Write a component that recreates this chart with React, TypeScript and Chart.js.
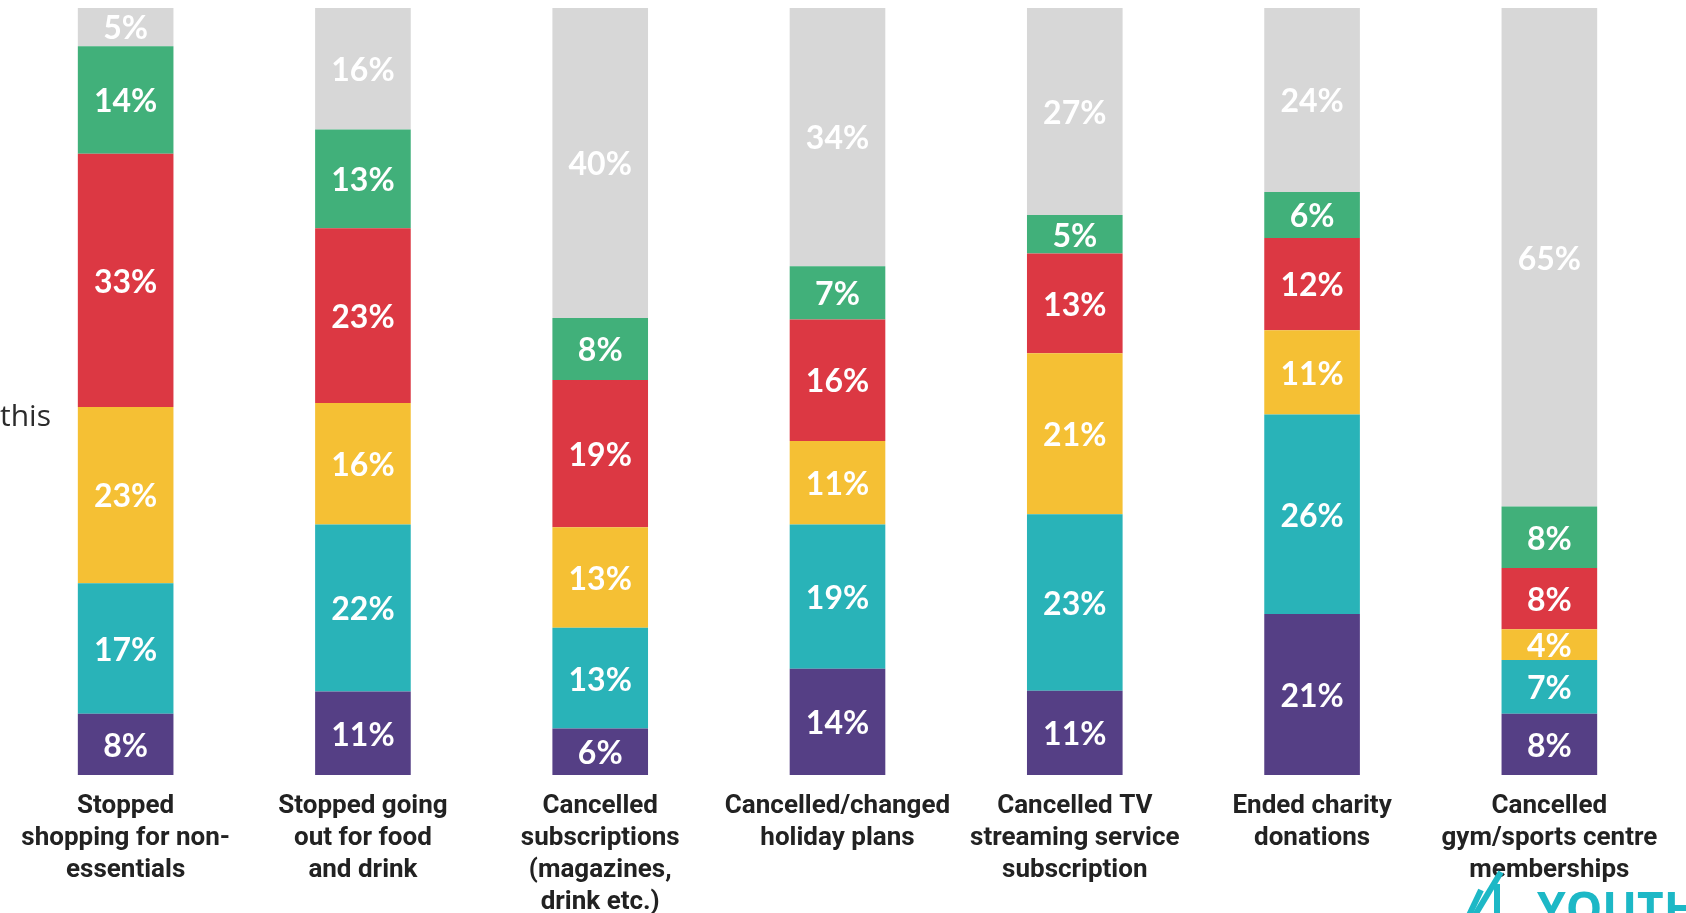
import React, { useEffect, useRef } from "react";
import { Chart, registerables } from "chart.js";

Chart.register(...registerables);

const categories: string[][] = [
  ["Stopped", "shopping for non-", "essentials"],
  ["Stopped going", "out for food", "and drink"],
  ["Cancelled", "subscriptions", "(magazines,", "drink etc.)"],
  ["Cancelled/changed", "holiday plans"],
  ["Cancelled TV", "streaming service", "subscription"],
  ["Ended charity", "donations"],
  ["Cancelled", "gym/sports centre", "memberships"],
];

// stacked bottom → top
const purpleValues = [8, 11, 6, 14, 11, 21, 8];
const tealValues = [17, 22, 13, 19, 23, 26, 7];
const yellowValues = [23, 16, 13, 11, 21, 11, 4];
const redValues = [33, 23, 19, 16, 13, 12, 8];
const greenValues = [14, 13, 8, 7, 5, 6, 8];
const greyValues = [5, 16, 40, 34, 27, 24, 65];

const seriesValues = [purpleValues, tealValues, yellowValues, redValues, greenValues, greyValues];
const seriesColors = ["#553f85", "#29b3b8", "#f5c034", "#dc3843", "#41b07a", "#d7d7d7"];

const sideText = "this";
const logoText = "YOUTH";

const totals = categories.map((_, i) => seriesValues.reduce((s, arr) => s + arr[i], 0));

const labelPlugin = {
  id: "segLabels",
  afterDatasetsDraw(chart: any) {
    const ctx = chart.ctx;
    ctx.save();
    ctx.fillStyle = "#ffffff";
    ctx.font = "bold 32px Lato";
    ctx.textAlign = "center";
    ctx.textBaseline = "middle";
    chart.data.datasets.forEach((ds: any, di: number) => {
      const meta = chart.getDatasetMeta(di);
      meta.data.forEach((el: any, i: number) => {
        const raw = ds.rawValues[i];
        const y = (el.y + el.base) / 2 + 2;
        ctx.fillText(raw + "%", el.x, y);
      });
    });
    ctx.restore();
  },
  afterDraw(chart: any) {
    const ctx = chart.ctx;
    ctx.save();
    ctx.fillStyle = "#2b2b2b";
    ctx.font = "30px 'Open Sans'";
    ctx.textAlign = "left";
    ctx.textBaseline = "middle";
    ctx.fillText(sideText, 0, 417);
    // logo
    ctx.fillStyle = "#1db8c6";
    ctx.strokeStyle = "#1db8c6";
    ctx.lineWidth = 6;
    ctx.beginPath();
    ctx.moveTo(1501, 872);
    ctx.lineTo(1466, 930);
    ctx.stroke();
    ctx.beginPath();
    ctx.moveTo(1497, 884);
    ctx.lineTo(1497, 930);
    ctx.stroke();
    ctx.beginPath();
    ctx.moveTo(1481, 890);
    ctx.lineTo(1462, 930);
    ctx.stroke();
    ctx.font = "bold 46px 'Open Sans'";
    ctx.textBaseline = "alphabetic";
    ctx.fillText(logoText, 1537, 925);
    ctx.restore();
  },
};

export default function App() {
  const ref = useRef<HTMLCanvasElement>(null);
  useEffect(() => {
    if (!ref.current) return;
    const chart = new Chart(ref.current, {
      type: "bar",
      data: {
        labels: categories,
        datasets: seriesValues.map((vals, si) => ({
          label: "s" + si,
          data: vals.map((v, i) => (v / totals[i]) * 100),
          rawValues: vals,
          backgroundColor: seriesColors[si],
          borderWidth: 0,
          barPercentage: 0.403,
          categoryPercentage: 1,
        })) as any,
      },
      options: {
        responsive: false,
        animation: false,
        layout: { padding: { left: 7, right: 52, top: 8, bottom: 27 } },
        plugins: { legend: { display: false }, tooltip: { enabled: false } },
        scales: {
          x: {
            stacked: true,
            grid: { display: false, drawTicks: false },
            border: { display: false },
            ticks: {
              color: "#222222",
              font: { family: "Roboto", weight: "bold", size: 26, lineHeight: 1.23 },
              crossAlign: "near",
              padding: 15,
              maxRotation: 0,
              autoSkip: false,
            },
          },
          y: {
            stacked: true,
            display: false,
            min: 0,
            max: 100,
          },
        },
      },
      plugins: [labelPlugin],
    });
    return () => chart.destroy();
  }, []);
  return (
    <div style={{ position: "fixed", left: 0, top: 0, width: 1686, height: 913, overflow: "hidden", background: "#fff" }}>
      <canvas ref={ref} width={1720} height={960} style={{ display: "block" }} />
    </div>
  );
}
